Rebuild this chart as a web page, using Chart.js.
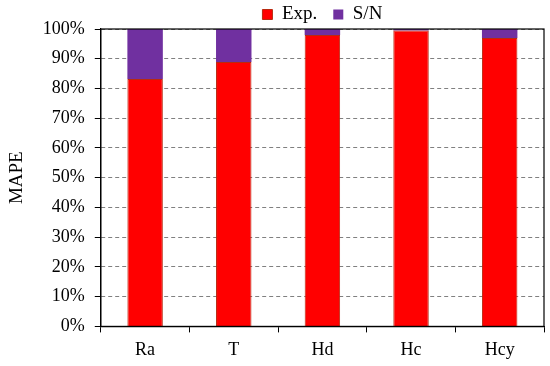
<!DOCTYPE html>
<html>
<head>
<meta charset="utf-8">
<script src="https://cdn.jsdelivr.net/npm/chart.js@4/dist/chart.umd.min.js"></script>
<style>
  html, body { margin: 0; padding: 0; background: #fff; }
  #wrap { width: 550px; height: 366px; }
</style>
</head>
<body>
<div id="wrap"><canvas id="c" width="550" height="366"></canvas></div>
<script>
const categories = ['Ra', 'T', 'Hd', 'Hc', 'Hcy'];
const expValues = [83.2, 88.9, 98.0, 99.5, 97.0];
const snValues = [16.8, 11.1, 2.0, 0.5, 3.0];
const yTickValues = [0, 10, 20, 30, 40, 50, 60, 70, 80, 90, 100];

const FONT = "'Liberation Serif', 'Times New Roman', serif";

const frame = {
  id: 'frame',
  afterLayout(chart) {
    if (chart.legend) {
      chart.legend.top += 5;
      chart.legend.bottom += 5;
      if (chart.legend.legendHitBoxes) chart.legend.legendHitBoxes.forEach(b => { b.top += 5; });
    }
  },
  afterDraw(chart) {
    const a = chart.chartArea, ctx = chart.ctx;
    ctx.save();
    ctx.strokeStyle = '#000';
    ctx.lineWidth = 1.2;
    ctx.strokeRect(a.left, a.top, a.right - a.left, a.bottom - a.top);
    ctx.restore();
  }
};

new Chart(document.getElementById('c'), {
  type: 'bar',
  data: {
    labels: categories,
    datasets: [
      { label: 'Exp.', data: expValues, backgroundColor: '#FF0000', borderColor: '#B82A10', borderWidth: 1 },
      { label: 'S/N', data: snValues, backgroundColor: '#7030A0', borderColor: '#7030A0', borderWidth: 0 }
    ]
  },
  options: {
    responsive: false,
    animation: false,
    barPercentage: 0.4,
    categoryPercentage: 1.0,
    layout: { padding: { left: 6, right: 6, top: -16, bottom: -2 } },
    plugins: {
      legend: {
        position: 'top',
        fullSize: false,
        labels: {
          font: { family: FONT, size: 19 },
          color: '#000',
          boxWidth: 10,
          boxHeight: 10,
          padding: 16
        }
      },
      tooltip: { enabled: false }
    },
    scales: {
      x: {
        stacked: true,
        grid: { display: true, drawOnChartArea: false, drawTicks: true, tickLength: 6, tickColor: '#000', color: '#000', offset: true },
        border: { display: true, color: '#000', width: 1.2 },
        ticks: { font: { family: FONT, size: 18 }, color: '#000', padding: 7 }
      },
      y: {
        stacked: true,
        min: 0,
        max: 100,
        afterBuildTicks(scale) { scale.ticks = yTickValues.map(v => ({ value: v })); },
        grid: { color: '#808080', lineWidth: 1, tickLength: 6, tickColor: '#000', drawTicks: true },
        border: { display: true, color: '#000', width: 1.2, dash: [4, 3] },
        ticks: { font: { family: FONT, size: 18 }, color: '#000', padding: 10, callback: v => v + '%' },
        title: { display: true, text: 'MAPE', font: { family: FONT, size: 19 }, color: '#000', padding: { top: 0, bottom: 4 } }
      }
    }
  },
  plugins: [frame]
});
</script>
</body>
</html>
